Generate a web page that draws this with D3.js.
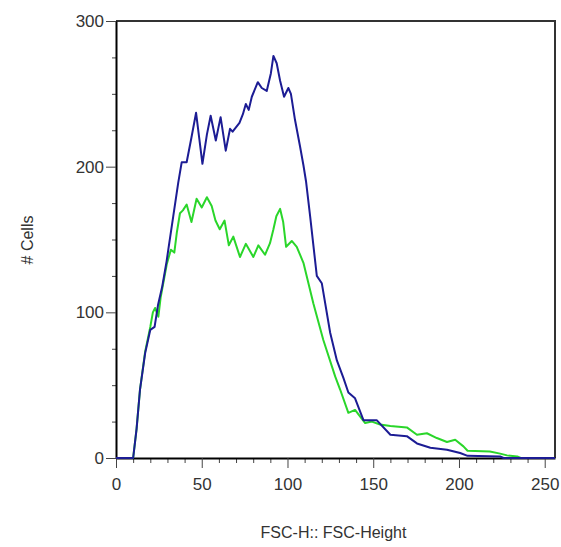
<!DOCTYPE html>
<html>
<head>
<meta charset="utf-8">
<script src="https://cdn.jsdelivr.net/npm/d3@7"></script>
<style>
  body { margin: 0; background: #fff; }
  text { font-family: "Liberation Sans", Arial, sans-serif; fill: #333; }
</style>
</head>
<body>
<script>
// FSC-Height histogram, two overlaid samples
var blueX = [0, 10, 12, 14, 17, 20, 22.5, 24.5, 27, 29.5, 30.5, 33.4, 36.3, 38.3, 41.2, 44, 46.7, 48.5, 50.4, 53, 55.2, 58.2, 61, 64, 66.5, 68, 72, 74, 75.7, 77.4, 79.2, 82.7, 85, 87.9, 90.3, 91.8, 93.7, 95.7, 98, 100.5, 102, 104.4, 107.3, 109.3, 110.8, 113.2, 117.1, 120, 124.9, 128.8, 132.6, 135.5, 139.4, 144.3, 152, 160, 169.6, 175.5, 183.3, 193, 200.7, 205, 224, 226, 256];
var blueY = [0, 0, 20, 47, 72, 88, 90, 105, 118, 135, 143, 166, 189, 203, 203, 220, 237, 220, 202, 222, 235, 218, 234, 211, 226, 224, 230, 236, 243, 239, 248, 258, 254, 252, 264, 276, 271, 259, 248, 254, 250, 232, 214, 201, 190, 166, 125, 120, 86, 67, 55, 45, 41, 26, 26, 16, 15, 10, 7, 5.7, 3.4, 1.5, 1, 0, 0];

var greenX = [0, 10, 12, 14, 17, 20, 21.5, 22.8, 24.7, 26, 29.6, 32, 34, 35.5, 37.3, 39, 41.2, 44, 47, 50, 53, 55.8, 58, 60.5, 63.3, 65.8, 68.4, 72.3, 75.7, 80.1, 83, 86.9, 89.8, 91.8, 93.5, 95.7, 97.5, 99.2, 102.5, 105.4, 109.3, 115.1, 120.9, 127.8, 130.7, 135.5, 139.4, 145.3, 149.2, 154, 160, 169.6, 175.5, 181.3, 187.1, 193, 197.8, 202.6, 205, 218, 224, 228, 234, 236, 256];
var greenY = [0, 0, 20, 47, 73, 90, 100, 103, 97, 110, 133, 143, 141, 155, 168, 170, 174, 162, 178, 172, 179, 173, 163, 157, 163, 146, 152, 138, 147, 138, 146, 139.5, 147.5, 157, 166, 171, 162, 145, 149, 145, 134, 106, 81, 56, 47, 31, 33, 24, 25, 23, 22, 21, 16, 17, 13.7, 11, 12.5, 8, 5, 4.5, 3, 1.8, 1, 0, 0];

var xMajor = [0, 50, 100, 150, 200, 250];
var yMajor = [0, 100, 200, 300];

var W = 561, H = 547;
var plotL = 116, plotR = 555, plotT = 21, plotB = 458;

var svg = d3.select("body").append("svg")
    .attr("width", W)
    .attr("height", H);

var x = d3.scaleLinear().domain([0, 256]).range([plotL, plotR]);
var y = d3.scaleLinear().domain([0, 300]).range([plotB, plotT]);

// frame top/right
svg.append("path")
    .attr("d", "M" + plotL + "," + plotT + "H" + plotR + "V" + plotB)
    .attr("fill", "none")
    .attr("stroke", "#333")
    .attr("stroke-width", 2);

// minor ticks
var xMinor = d3.range(0, 257, 10).filter(function (d) { return d % 50 !== 0; });
var yMinor = d3.range(0, 301, 25).filter(function (d) { return d % 100 !== 0; });

svg.append("g").attr("transform", "translate(0," + plotB + ")")
    .call(d3.axisBottom(x).tickValues(xMinor).tickSize(5).tickFormat(""))
    .call(function (g) { g.select(".domain").remove(); g.selectAll("line").attr("stroke", "#444"); });

svg.append("g").attr("transform", "translate(" + plotL + ",0)")
    .call(d3.axisLeft(y).tickValues(yMinor).tickSize(4).tickFormat(""))
    .call(function (g) { g.select(".domain").remove(); g.selectAll("line").attr("stroke", "#444"); });

// major axes
var xAxis = svg.append("g").attr("transform", "translate(0," + plotB + ")")
    .call(d3.axisBottom(x).tickValues(xMajor).tickSize(10).tickPadding(10).tickSizeOuter(0));
var yAxis = svg.append("g").attr("transform", "translate(" + plotL + ",0)")
    .call(d3.axisLeft(y).tickValues(yMajor).tickSize(10).tickPadding(2).tickSizeOuter(0));

[xAxis, yAxis].forEach(function (g) {
    g.select(".domain").attr("stroke", "#000").attr("stroke-width", 2);
    g.selectAll(".tick line").attr("stroke", "#444");
    g.selectAll(".tick text")
        .style("font-size", "17px")
        .attr("fill", "#2a2a2a");
});

// curves
var line = d3.line()
    .x(function (d) { return x(d[0]); })
    .y(function (d) { return y(d[1]); });

var green = d3.zip(greenX, greenY);
var blue = d3.zip(blueX, blueY);

svg.append("path").datum(green)
    .attr("d", line)
    .attr("fill", "none")
    .attr("stroke", "#2ad62a")
    .attr("stroke-width", 2)
    .attr("stroke-linejoin", "round");

svg.append("path").datum(blue)
    .attr("d", line)
    .attr("fill", "none")
    .attr("stroke", "#1c1c94")
    .attr("stroke-width", 2)
    .attr("stroke-linejoin", "round");

// axis titles
svg.append("text")
    .attr("x", (plotL + plotR) / 2 - 2)
    .attr("y", 538)
    .attr("text-anchor", "middle")
    .style("font-size", "16px")
    .text("FSC-H:: FSC-Height");

svg.append("text")
    .attr("transform", "translate(33,240) rotate(-90)")
    .attr("text-anchor", "middle")
    .style("font-size", "16px")
    .text("# Cells");
</script>
</body>
</html>
